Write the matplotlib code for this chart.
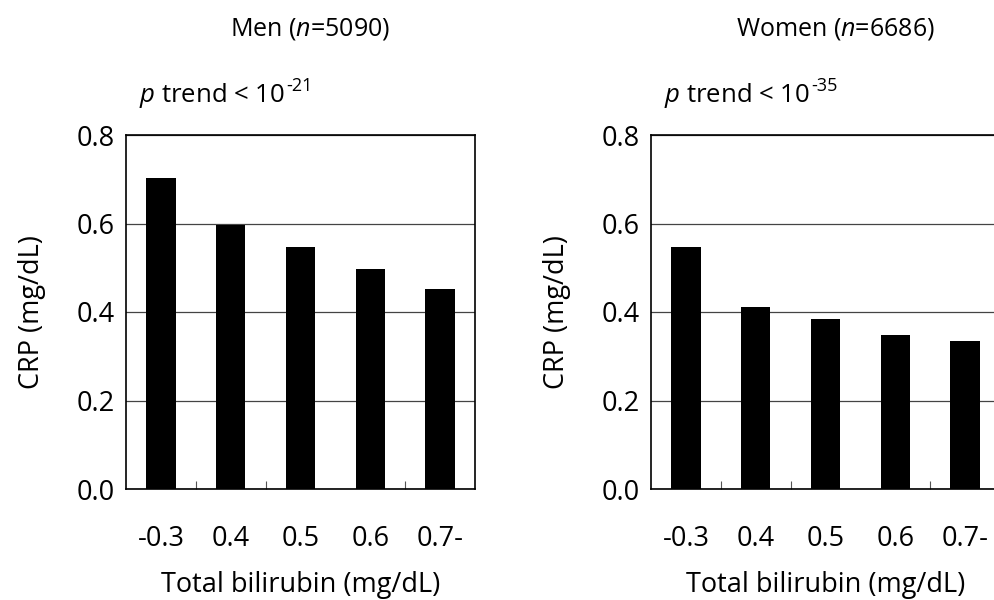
import matplotlib.pyplot as plt
import numpy as np

plt.rcParams['font.family'] = ['Open Sans', 'DejaVu Sans']
plt.rcParams['mathtext.fontset'] = 'custom'
plt.rcParams['mathtext.rm'] = 'Open Sans'
plt.rcParams['mathtext.it'] = 'Open Sans:italic'

categories = ['-0.3', '0.4', '0.5', '0.6', '0.7-']
men_crp = [0.703, 0.597, 0.547, 0.497, 0.452]
women_crp = [0.547, 0.411, 0.384, 0.348, 0.334]
titles = ['Men ($\\it{n}$=5090)', 'Women ($\\it{n}$=6686)']
trend_exp = ['-21', '-35']
yticks = [0.0, 0.2, 0.4, 0.6, 0.8]
# small inward marks between categories (the one between 0.5 and 0.6 is absent in the original)
sep_ticks = [0.5, 1.5, 3.5]

fig = plt.figure(figsize=(9.95, 6), dpi=100)
W, H = 995, 600
lefts = [126, 651]
renderer = fig.canvas.get_renderer()

for i, vals in enumerate([men_crp, women_crp]):
    ax = fig.add_axes([lefts[i] / W, 111 / H, 349 / W, 354 / H])
    x = np.arange(len(categories))
    ax.bar(x, vals, width=0.42, color='black', zorder=3)
    ax.set_xlim(-0.5, len(categories) - 0.5)
    ax.set_ylim(0, 0.8)
    ax.set_yticks(yticks)
    ax.set_yticklabels([f'{v:.1f}' for v in yticks], fontsize=19.5)
    ax.yaxis.grid(True, color='#444444', linewidth=0.9, zorder=0)
    ax.set_xticks(x)
    ax.set_xticklabels(categories, fontsize=19.5)
    ax.set_xticks(sep_ticks, minor=True)
    ax.tick_params(axis='x', which='major', length=0, pad=26)
    ax.tick_params(axis='x', which='minor', direction='in', length=6, width=0.8, color='#555555')
    ax.tick_params(axis='y', length=0, pad=8)
    for s in ax.spines.values():
        s.set_linewidth(1.2)
    ax.set_xlabel('Total bilirubin (mg/dL)', fontsize=19.5, labelpad=13)
    ax.set_ylabel('CRP (mg/dL)', fontsize=19.5, labelpad=22)
    cx = (lefts[i] + 184) / W
    fig.text(cx, 1 - 36 / H, titles[i], ha='center', va='baseline', fontsize=18)
    t = fig.text((lefts[i] + 13) / W, 1 - 102 / H, '$\\it{p}$ trend < 10',
                 ha='left', va='baseline', fontsize=18.5)
    bb = t.get_window_extent(renderer)
    fig.text(bb.x1 / W + 0.001, 1 - 91 / H, trend_exp[i], ha='left', va='baseline', fontsize=13)

fig.savefig('out.png', dpi=100)
